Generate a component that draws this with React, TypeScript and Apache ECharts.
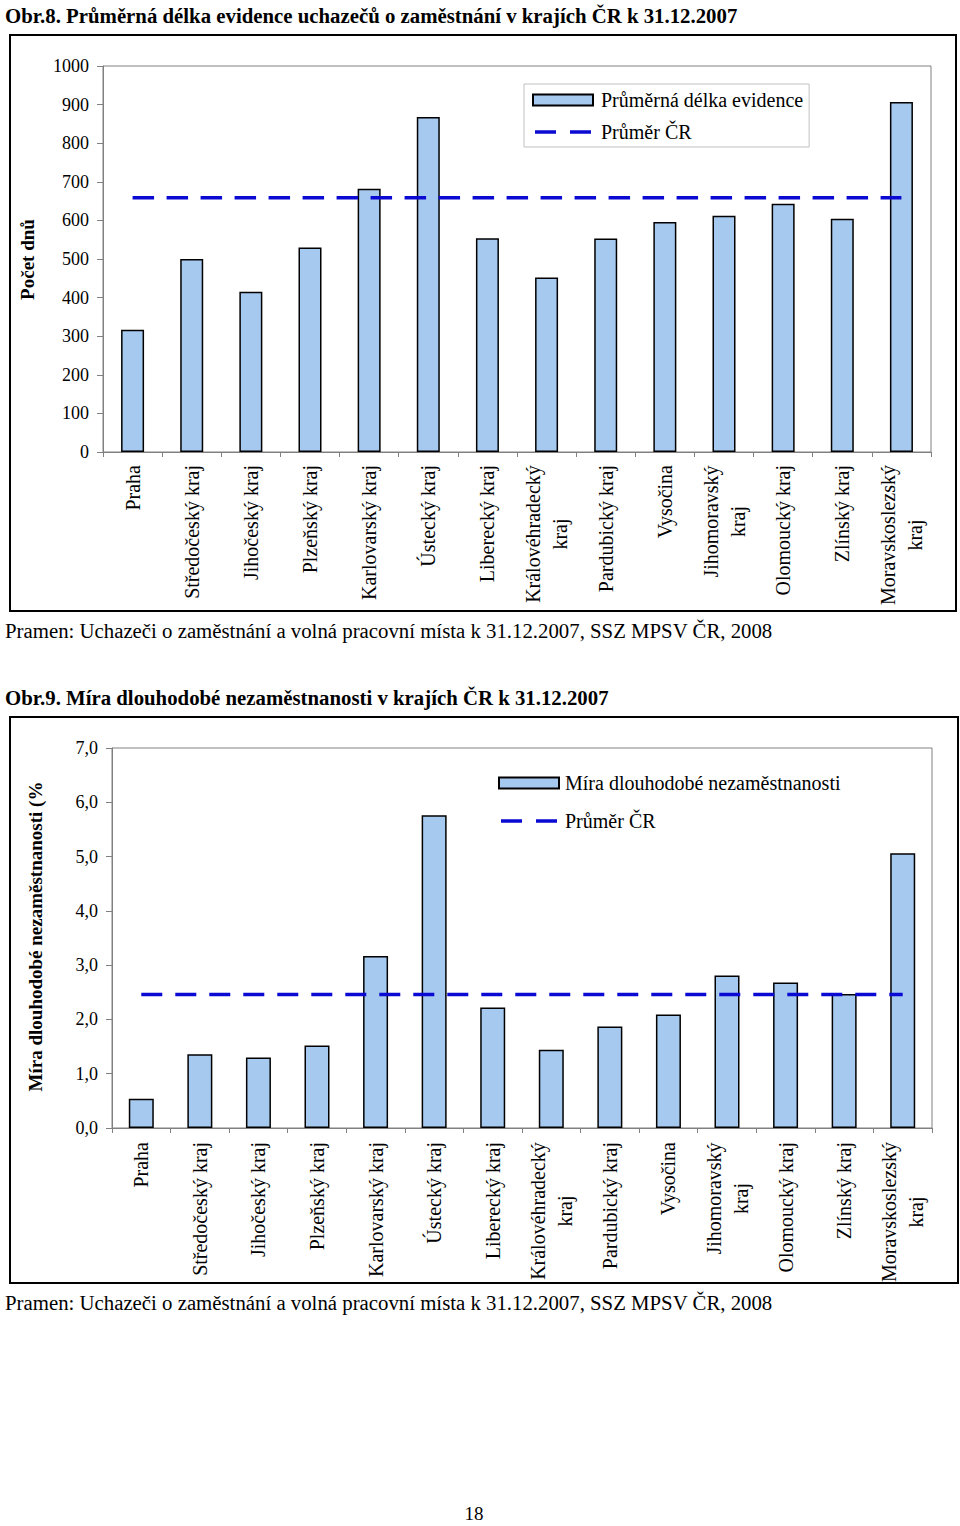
import React, { useEffect, useRef } from "react";
import * as echarts from "echarts";

const categories = [
  "Praha",
  "Středočeský kraj",
  "Jihočeský kraj",
  "Plzeňský kraj",
  "Karlovarský kraj",
  "Ústecký kraj",
  "Liberecký kraj",
  "Královéhradecký\nkraj",
  "Pardubický kraj",
  "Vysočina",
  "Jihomoravský\nkraj",
  "Olomoucký kraj",
  "Zlínský kraj",
  "Moravskoslezský\nkraj",
];

const evidenceDays = [317, 500, 415, 530, 682, 868, 554, 452, 553, 596, 612, 643, 604, 907];
const avgDaysCR = 659;

const longTermRate = [0.54, 1.36, 1.3, 1.52, 3.17, 5.76, 2.22, 1.44, 1.87, 2.09, 2.81, 2.68, 2.47, 5.06];
const avgRateCR = 2.46;

const daysTicks = { min: 0, max: 1000, interval: 100 };
const rateTicks = { min: 0, max: 7, interval: 1 };

const title1 = "Obr.8. Průměrná délka evidence uchazečů o zaměstnání v krajích ČR k 31.12.2007";
const title2 = "Obr.9. Míra dlouhodobé nezaměstnanosti v krajích ČR k 31.12.2007";
const source = "Pramen: Uchazeči o zaměstnání a volná pracovní místa k 31.12.2007, SSZ MPSV ČR, 2008";
const yName1 = "Počet dnů";
const yName2 = "Míra dlouhodobé nezaměstnanosti (%";
const s1Bar = "Průměrná délka evidence";
const s2Bar = "Míra dlouhodobé nezaměstnanosti";
const sAvg = "Průměr ČR";

const FONT = '"Liberation Serif", "Times New Roman", serif';
const BAR_COLOR = "#a6c9f0";
const LINE_COLOR = "#0a0ad2";
const AXIS_COLOR = "#808080";
const LABEL_SIZE = 20;
const TICK_SIZE = 18;
const TEXT_SIZE = 20.8;

// dashed legend icon: two dashes 21px long, 3.5px thick, in a 56x11 box
const DASH_ICON =
  "path://M0,0L0.01,0L0,0.01Z M0,11L0.01,11L0,10.99Z M0,3.75L21,3.75L21,7.25L0,7.25Z M35,3.75L56,3.75L56,7.25L35,7.25Z";

function buildRich() {
  const canvas = document.createElement("canvas");
  const ctx = canvas.getContext("2d")!;
  ctx.font = `${LABEL_SIZE}px ${FONT}`;
  const rich: Record<string, any> = {};
  categories.forEach((c, i) => {
    if (c.includes("\n")) {
      const w = Math.max(...c.split("\n").map((l) => ctx.measureText(l).width));
      rich["m" + i] = {
        width: Math.ceil(w),
        align: "center",
        fontSize: LABEL_SIZE,
        fontFamily: FONT,
        color: "#000",
        lineHeight: 27,
      };
    }
  });
  return rich;
}

export default function App() {
  const ref = useRef<HTMLDivElement>(null);

  useEffect(() => {
    document.body.style.margin = "0";
    const chart = echarts.init(ref.current!, null, { renderer: "svg" });
    const rich = buildRich();

    const xAxisBase = (gridIndex: number, margin: number) => ({
      type: "category",
      gridIndex,
      data: categories,
      boundaryGap: true,
      axisLine: { show: true, lineStyle: { color: AXIS_COLOR, width: 1 } },
      axisTick: { show: true, length: 5, lineStyle: { color: AXIS_COLOR } },
      axisLabel: {
        rotate: 90,
        interval: 0,
        margin,
        fontSize: LABEL_SIZE,
        fontFamily: FONT,
        color: "#000",
        lineHeight: 27,
        rich,
        formatter: (value: string, index: number) => {
          if (value.includes("\n")) {
            return value
              .split("\n")
              .map((l) => `{m${index}|${l}}`)
              .join("\n");
          }
          return value;
        },
      },
      splitLine: { show: false },
    });

    const yAxisBase = (gridIndex: number, ticks: any, fmt: (v: number) => string) => ({
      type: "value",
      gridIndex,
      min: ticks.min,
      max: ticks.max,
      interval: ticks.interval,
      axisLine: { show: true, lineStyle: { color: AXIS_COLOR, width: 1 } },
      axisTick: { show: true, length: 6, lineStyle: { color: AXIS_COLOR } },
      axisLabel: {
        margin: 14,
        fontSize: TICK_SIZE,
        fontFamily: FONT,
        color: "#000",
        formatter: fmt,
      },
      splitLine: { show: false },
    });

    const legendText = { fontSize: 20, fontFamily: FONT, color: "#000", lineHeight: 20 };

    const option: any = {
      animation: false,
      backgroundColor: "#fff",
      textStyle: { fontFamily: FONT },
      grid: [
        { left: 103, top: 66, width: 828, height: 386, show: true, borderColor: AXIS_COLOR, borderWidth: 1 },
        { left: 112, top: 748, width: 820, height: 380, show: true, borderColor: AXIS_COLOR, borderWidth: 1 },
      ],
      xAxis: [xAxisBase(0, 13), xAxisBase(1, 14)],
      yAxis: [
        yAxisBase(0, daysTicks, (v: number) => String(v)),
        yAxisBase(1, rateTicks, (v: number) => v.toFixed(1).replace(".", ",")),
      ],
      legend: [
        {
          orient: "vertical",
          left: 524,
          top: 84,
          padding: [6, 6, 5, 8],
          borderColor: "#c0c0c0",
          borderWidth: 1,
          itemWidth: 60,
          itemHeight: 11,
          itemGap: 12,
          symbolKeepAspect: true,
          textStyle: { ...legendText, padding: [0, 0, 0, 3] },
          data: [
            { name: s1Bar, icon: "rect" },
            { name: sAvg + " ", icon: DASH_ICON, itemStyle: { color: LINE_COLOR, borderWidth: 0 } },
          ],
        },
        {
          orient: "vertical",
          left: 498,
          top: 773,
          padding: 0,
          itemWidth: 60,
          itemHeight: 11,
          itemGap: 18,
          symbolKeepAspect: true,
          textStyle: { ...legendText, padding: [0, 0, 0, 1] },
          data: [
            { name: s2Bar, icon: "rect" },
            { name: sAvg, icon: DASH_ICON, itemStyle: { color: LINE_COLOR, borderWidth: 0 } },
          ],
        },
      ],
      series: [
        {
          type: "bar",
          name: s1Bar,
          xAxisIndex: 0,
          yAxisIndex: 0,
          data: evidenceDays,
          barWidth: 23,
          itemStyle: { color: BAR_COLOR, borderColor: "#000", borderWidth: 1.5 },
        },
        {
          type: "line",
          name: sAvg + " ",
          xAxisIndex: 0,
          yAxisIndex: 0,
          data: [
            [categories[0], avgDaysCR],
            [categories[categories.length - 1], avgDaysCR],
          ],
          symbol: "none",
          lineStyle: { color: LINE_COLOR, width: 3.5, type: [21.5, 12.5] },
          itemStyle: { color: LINE_COLOR },
          z: 5,
        },
        {
          type: "bar",
          name: s2Bar,
          xAxisIndex: 1,
          yAxisIndex: 1,
          data: longTermRate,
          barWidth: 25,
          itemStyle: { color: BAR_COLOR, borderColor: "#000", borderWidth: 1.5 },
        },
        {
          type: "line",
          name: sAvg,
          xAxisIndex: 1,
          yAxisIndex: 1,
          data: [
            [categories[0], avgRateCR],
            [categories[categories.length - 1], avgRateCR],
          ],
          symbol: "none",
          lineStyle: { color: LINE_COLOR, width: 3.5, type: [21, 13] },
          itemStyle: { color: LINE_COLOR },
          z: 5,
        },
      ],
      graphic: [
        {
          type: "text",
          left: 5,
          top: 5,
          style: { text: title1, font: `bold ${TEXT_SIZE}px ${FONT}`, fill: "#000" },
        },
        {
          type: "rect",
          shape: { x: 10, y: 35, width: 946, height: 576 },
          style: { fill: "none", stroke: "#000", lineWidth: 2 },
          silent: true,
        },
        {
          type: "text",
          x: 27.5,
          y: 259.5,
          rotation: Math.PI / 2,
          style: { text: yName1, font: `bold 19px ${FONT}`, fill: "#000", align: "center", verticalAlign: "middle" },
        },
        {
          type: "text",
          left: 5,
          top: 620,
          style: { text: source, font: `${TEXT_SIZE}px ${FONT}`, fill: "#000" },
        },
        {
          type: "text",
          left: 5,
          top: 687,
          style: { text: title2, font: `bold ${TEXT_SIZE}px ${FONT}`, fill: "#000" },
        },
        {
          type: "rect",
          shape: { x: 10, y: 717, width: 948, height: 566 },
          style: { fill: "none", stroke: "#000", lineWidth: 2 },
          silent: true,
        },
        {
          type: "text",
          x: 35.5,
          y: 936.5,
          rotation: Math.PI / 2,
          style: { text: yName2, font: `bold 19px ${FONT}`, fill: "#000", align: "center", verticalAlign: "middle" },
        },
        {
          type: "text",
          left: 5,
          top: 1292,
          style: { text: source, font: `${TEXT_SIZE}px ${FONT}`, fill: "#000" },
        },
        {
          type: "text",
          x: 474,
          y: 1513,
          style: { text: "18", font: `19px ${FONT}`, fill: "#000", align: "center", verticalAlign: "middle" },
        },
      ],
    };

    chart.setOption(option);
    return () => {
      chart.dispose();
    };
  }, []);

  return (
    <div
      ref={ref}
      style={{ position: "absolute", left: 0, top: 0, width: 960, height: 1526, background: "#fff" }}
    />
  );
}
